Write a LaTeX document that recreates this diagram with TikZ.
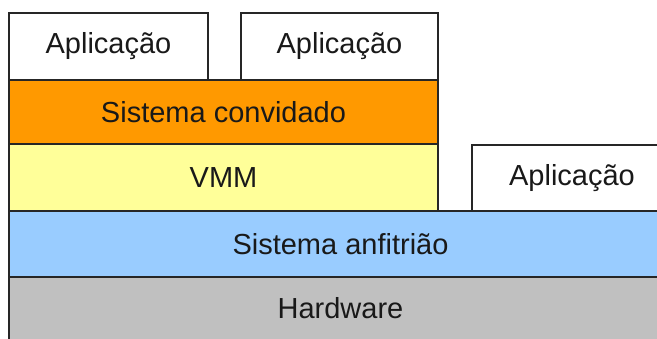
\documentclass[tikz,border=0pt]{standalone}
\usepackage{fontspec}
\setmainfont{Liberation Sans}
\begin{document}
\begin{tikzpicture}[x=1pt,y=-1pt,
  layer/.style={draw=black!85, line width=1.6pt, outer sep=0pt, inner sep=0pt,
    anchor=north west, font=\fontsize{29}{31}\selectfont, text=black!90},
  app/.style={layer, fill=white}]
  \useasboundingbox (0,0) rectangle (657,338);
  \clip (0,0) rectangle (657,338);
  % application boxes
  \node[app, minimum width=199pt, minimum height=67pt] (app1) at (9,13) {Aplicação};
  \node[app, minimum width=197pt, minimum height=67pt] (app2) at (241,13) {Aplicação};
  \node[app, minimum width=200pt, minimum height=66pt] (app3) at (472,145) {Aplicação};
  % guest system and VMM
  \node[layer, fill={rgb,255:red,255;green,153;blue,0}, minimum width=429pt, minimum height=64pt] (guest) at (9,80) {Sistema convidado};
  \node[layer, fill={rgb,255:red,255;green,255;blue,153}, minimum width=429pt, minimum height=67pt] (vmm) at (9,144) {VMM};
  % host system and hardware
  \node[layer, fill={rgb,255:red,153;green,204;blue,255}, minimum width=663pt, minimum height=66pt] (host) at (9,211) {Sistema anfitrião};
  \node[layer, fill={rgb,255:red,192;green,192;blue,192}, minimum width=663pt, minimum height=63pt] (hw) at (9,277) {Hardware};
\end{tikzpicture}
\end{document}
